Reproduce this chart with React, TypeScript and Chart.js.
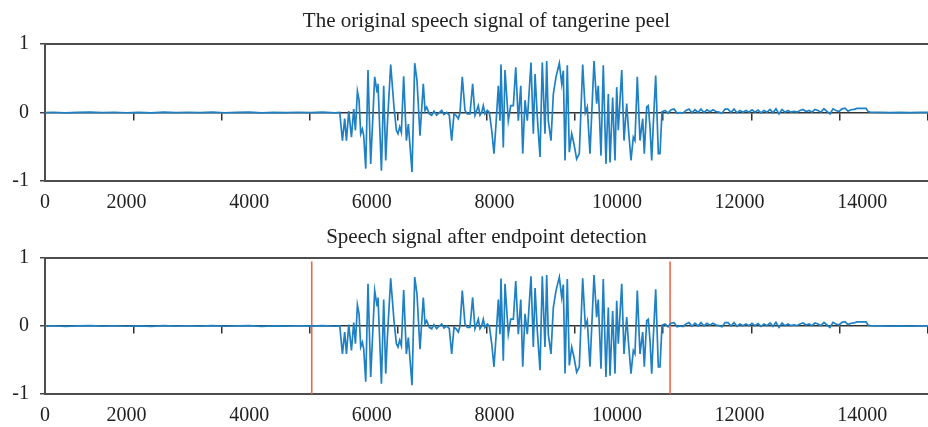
import React, { useEffect, useRef } from 'react';
import { Chart, registerables } from 'chart.js';

Chart.register(...registerables);

// ---- data (sample index, amplitude) ----
const leadSamples = [0, 200, 400, 600, 800, 1000, 1200, 1400, 1600, 1800, 2000, 2200, 2400, 2600, 2800, 3000, 3200, 3400, 3600, 3800, 4000, 4200, 4400, 4600, 4800, 5000, 5200, 5400];
const leadAmp = [0.003, -0.004, 0.005, -0.002, 0.004, -0.005, 0.002, 0.006, -0.003, 0.004, -0.004, 0.003, -0.006, 0.005, -0.002, 0.004, -0.003, 0.006, -0.004, 0.002, 0.005, -0.005, 0.003, -0.002, 0.004, -0.003, 0.005, -0.004];

const speechSamples = [
  5477, 5521, 5558, 5586, 5624, 5668, 5705, 5733, 5765, 5792,
  5819, 5846, 5868, 5901, 5938, 5982, 6047, 6085, 6101, 6157,
  6194, 6227, 6254, 6308, 6362, 6401, 6427, 6455, 6482, 6520,
  6564, 6596, 6656, 6700, 6737, 6786, 6840, 6868, 6895, 6938,
  6977, 7014, 7058, 7101, 7140, 7177, 7222, 7264, 7303, 7341,
  7373, 7411, 7439, 7476, 7520, 7558, 7602, 7645, 7683, 7711,
  7737, 7765, 7792, 7819, 7846, 7884, 7917, 7956, 7993, 8026,
  8064, 8091, 8107, 8145, 8173, 8227, 8266, 8309, 8348, 8390,
  8430, 8462, 8499, 8537, 8597, 8635, 8663, 8700, 8744, 8781,
  8825, 8853, 8879, 8923, 8961, 9005, 9059, 9098, 9124, 9152,
  9189, 9222, 9261, 9298, 9342, 9385, 9440, 9483, 9515, 9559,
  9625, 9668, 9694, 9739, 9776, 9820, 9858, 9886, 9929, 9967, 9995,
  10021, 10077, 10114, 10158, 10184, 10228, 10266, 10293, 10331, 10375,
  10419, 10445, 10484, 10510, 10538, 10566, 10592, 10631, 10674, 10701,
];
const speechAmp = [
  0, -0.41, -0.09, -0.41, 0.02, -0.36, 0.05, -0.26, 0.31, 0.18,
  -0.31, -0.24, -0.34, -0.82, 0.62, -0.75, 0.52, 0.30, 0.42, -0.85,
  0.39, -0.70, -0.17, 0.70, 0.08, -0.26, -0.31, -0.21, -0.29, 0.53,
  -0.41, -0.17, -0.87, 0.72, 0.47, -0.34, 0.42, 0.03, 0.08, -0.02,
  -0.04, 0.02, -0.04, 0.00, 0.03, -0.03, 0.00, -0.04, -0.41, -0.02,
  -0.04, -0.09, 0.00, 0.52, 0.03, -0.02, -0.02, 0.42, -0.04, 0.03,
  0.10, -0.04, 0.00, 0.10, -0.02, 0.03, 0.00, -0.26, -0.60, -0.17,
  0.39, -0.12, 0.70, -0.51, 0.62, -0.12, 0.10, 0.10, 0.66, -0.12,
  0.39, -0.60, 0.18, -0.12, 0.73, -0.31, 0.56, -0.07, -0.65, 0.73,
  -0.31, 0.75, -0.12, -0.41, 0.27, 0.52, 0.72, 0.42, 0.61, -0.70,
  0.69, -0.58, -0.31, -0.46, -0.68, -0.60, 0.70, 0.00, 0.08, -0.60,
  0.75, 0.13, 0.39, -0.63, 0.69, -0.75, 0.27, -0.73, 0.22, -0.70, 0.37,
  -0.26, 0.62, -0.41, 0.13, -0.21, -0.70, -0.36, -0.41, 0.52, -0.41,
  -0.09, -0.60, 0.08, 0.10, -0.21, -0.70, -0.17, 0.54, -0.60, -0.60,
];

const tailSamples = [
  10734, 10783, 10832, 10881, 10930, 10979, 11028, 11077, 11125, 11174,
  11223, 11272, 11321, 11370, 11419, 11468, 11517, 11566, 11615, 11664,
  11713, 11762, 11810, 11859, 11908, 11957, 12006, 12055, 12104, 12153,
  12202, 12251, 12300, 12349, 12398, 12447, 12496, 12544, 12593, 12642,
  12691, 12740, 12789, 12838, 12887, 12936, 12985, 13034, 13083, 13132,
  13181, 13229, 13278, 13327, 13376, 13425, 13474, 13523, 13572, 13621,
  13670, 13719, 13768, 13817, 13866, 13915, 13964, 14013, 14062, 14095, 14127,
  14290, 14453, 14616, 14780, 14943, 15106,
];
const tailAmp = [
  0.01, 0.03, -0.01, 0.04, 0.05, -0.01, 0.00, -0.01, 0.03, 0.05,
  -0.005, 0.04, 0.00, 0.05, 0.00, 0.04, 0.01, 0.04, 0.015, 0.005,
  -0.01, 0.05, 0.05, 0.00, 0.05, -0.005, 0.03, 0.005, 0.03, 0.005,
  0.04, 0.005, 0.035, -0.005, 0.03, 0.005, 0.045, -0.005, 0.054, -0.02,
  0.044, 0.005, 0.03, 0.005, 0.015, 0.005, 0.03, 0.044, 0.015, 0.03,
  0.005, 0.044, 0.03, 0.005, 0.054, 0.015, -0.02, 0.054, 0.03, 0.015,
  0.054, 0.063, 0.02, 0.04, 0.045, 0.06, 0.06, 0.06, 0.06, 0.015, 0.005,
  0.002, -0.002, 0.002, -0.001, 0.002, 0.0,
];

const endpointSamples = [5020, 10865];

const xTickValues = [669, 2000, 4000, 6000, 8000, 10000, 12000, 14000];
const xTickLabels = ['0', '2000', '4000', '6000', '8000', '10000', '12000', '14000'];
const X_MIN = 669;
const X_MAX = 15073;
const zeroTickStep = 1500;
const zeroTickMax = 14916;

const titles = ['The original speech signal of tangerine peel', 'Speech signal after endpoint detection'];

const FONT = "'Liberation Serif', 'Times New Roman', serif";
const BLUE = '#1F80C3';
const RED = '#EF664E';
const FRAME = '#4d4d4d';

function signalPoints() {
  const xs = [...leadSamples, ...speechSamples, ...tailSamples];
  const ys = [...leadAmp, ...speechAmp, ...tailAmp];
  return xs.map((x, i) => ({ x, y: ys[i] }));
}

function makeConfig(title: string, withEndpoints: boolean, padTop: number, padBottom: number): any {
  const datasets: any[] = [
    {
      data: signalPoints(),
      borderColor: BLUE,
      borderWidth: 1.7,
      pointRadius: 0,
      tension: 0,
      xAxisID: 'x',
      yAxisID: 'y',
    },
  ];
  if (withEndpoints) {
    endpointSamples.forEach((s) => {
      datasets.push({
        data: [
          { x: s, y: -1 },
          { x: s, y: 0.95 },
        ],
        borderColor: RED,
        borderWidth: 1.6,
        pointRadius: 0,
        xAxisID: 'x',
        yAxisID: 'y',
      });
    });
  }
  return {
    type: 'line',
    data: { datasets },
    options: {
      animation: false,
      responsive: false,
      devicePixelRatio: 1,
      layout: { padding: 0 },
      plugins: {
        legend: { display: false },
        tooltip: { enabled: false },
        title: {
          display: true,
          text: title,
          fullSize: false,
          color: '#222',
          font: { family: FONT, size: 21, weight: 'normal', lineHeight: 1.2 },
          padding: { top: padTop, bottom: padBottom },
        },
      },
      scales: {
        x: {
          type: 'linear',
          position: 'bottom',
          min: X_MIN,
          max: X_MAX,
          afterBuildTicks: (s: any) => {
            s.ticks = xTickValues.map((v) => ({ value: v }));
          },
          ticks: {
            autoSkip: false,
            maxRotation: 0,
            padding: 10,
            color: '#222',
            font: { family: FONT, size: 20, lineHeight: 1.2 },
            callback: (_v: any, i: number) => xTickLabels[i],
          },
          grid: { display: false, drawTicks: false },
          border: { display: true, color: FRAME, width: 2 },
          afterFit: (s: any) => {
            s.height = 33;
          },
        },
        xTop: {
          type: 'linear',
          position: 'top',
          min: 0,
          max: 1,
          ticks: { display: false },
          grid: { display: false, drawTicks: false },
          border: { display: true, color: FRAME, width: 2 },
          afterFit: (s: any) => {
            s.height = 0;
          },
        },
        xZero: {
          type: 'linear',
          position: { y: 0 },
          min: 0,
          max: zeroTickMax,
          ticks: { display: false, stepSize: zeroTickStep },
          grid: { drawOnChartArea: false, drawTicks: true, tickLength: 7, color: '#333', lineWidth: 1.5 },
          border: { display: true, color: '#333', width: 1.5 },
        },
        y: {
          type: 'linear',
          position: 'left',
          min: -1,
          max: 1,
          ticks: {
            stepSize: 1,
            padding: 11,
            color: '#222',
            font: { family: FONT, size: 20, lineHeight: 1.2 },
          },
          grid: { drawOnChartArea: false, drawTicks: true, tickLength: 5, color: '#444', lineWidth: 1.5 },
          border: { display: true, color: FRAME, width: 2 },
          afterFit: (s: any) => {
            s.width = 45;
          },
        },
      },
    },
  };
}

function Panel(props: { title: string; endpoints: boolean; height: number; padTop: number; padBottom: number }) {
  const ref = useRef<HTMLCanvasElement | null>(null);
  useEffect(() => {
    if (!ref.current) return;
    const chart = new Chart(ref.current, makeConfig(props.title, props.endpoints, props.padTop, props.padBottom));
    return () => chart.destroy();
  }, []);
  return <canvas ref={ref} width={928} height={props.height} style={{ display: 'block', width: 928, height: props.height }} />;
}

export default function App() {
  return (
    <div style={{ position: 'absolute', left: 0, top: 0, width: 928, height: 427, background: '#fff' }}>
      <Panel title={titles[0]} endpoints={false} height={214} padTop={9} padBottom={9.8} />
      <Panel title={titles[1]} endpoints={true} height={213} padTop={11} padBottom={7.8} />
    </div>
  );
}
